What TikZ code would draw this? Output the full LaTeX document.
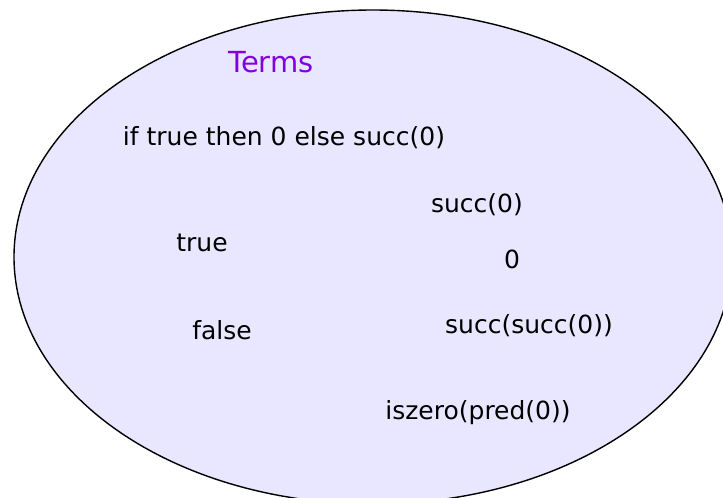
\documentclass[tikz,border=0pt]{standalone}
\usepackage{fontspec}
\setmainfont{DejaVu Sans}
\definecolor{setfill}{RGB}{233,230,255}
\definecolor{termcol}{RGB}{128,0,224}
\tikzset{
  term/.style={inner sep=0pt, font=\fontsize{25}{30}\selectfont, text=black},
  title/.style={term, font=\fontsize{29}{34}\selectfont, text=termcol}
}
\begin{document}
\begin{tikzpicture}[x=1pt,y=-1pt]
\useasboundingbox (0,0) rectangle (723,498);
\clip (0,0) rectangle (723,498);
\draw[fill=setfill, line width=1.4pt] (373,257) ellipse [x radius=359, y radius=247];
\node[title] (terms) at (271,62) {Terms};
\node[term] (ite) at (284,138) {if true then 0 else succ(0)};
\node[term] (s0) at (477,205) {succ(0)};
\node[term] (tr) at (202,243) {true};
\node[term] (zero) at (512,259) {0};
\node[term] (ss0) at (529,326) {succ(succ(0))};
\node[term] (fa) at (222,330) {false};
\node[term] (isz) at (478,413) {iszero(pred(0))};
\end{tikzpicture}
\end{document}
